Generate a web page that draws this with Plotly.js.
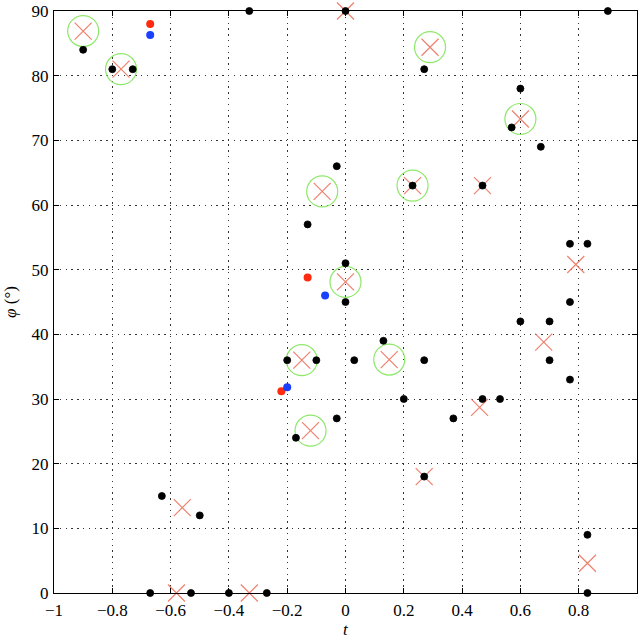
<!DOCTYPE html>
<html>
<head>
<meta charset="utf-8">
<script src="https://cdn.plot.ly/plotly-3.0.1.min.js"></script>
<style>html,body{margin:0;padding:0;background:#fff;}#chart{width:640px;height:640px;}</style>
</head>
<body>
<div id="chart"></div>
<script>
// Black points (t, phi)
const blackT   = [-0.9, -0.8, -0.73, -0.33, 0, 0.27, -0.03, 0.23, 0.9, 0.6, 0.57, 0.67, 0.47, -0.13, 0, 0, 0.13, -0.2, -0.1, 0.03, 0.27, 0.2, 0.77, 0.83, 0.77, 0.6, 0.7, 0.7, 0.77, 0.47, 0.53, 0.37, 0.83, 0.83, -0.17, -0.03, 0.27, -0.27, -0.63, -0.5, -0.67, -0.53, -0.4];
const blackPhi = [84, 81, 81, 90, 90, 81, 66, 63, 90, 78, 72, 69, 63, 57, 51, 45, 39, 36, 36, 36, 36, 30, 54, 54, 45, 42, 42, 36, 33, 30, 30, 27, 9, 0, 24, 27, 18, 0, 15, 12, 0, 0, 0];
// Red crosses
const crossT   = [-0.9, -0.77, 0, 0.29, -0.08, 0.23, 0.6, 0.47, 0, -0.15, 0.15, -0.12, 0.79, 0.68, 0.46, 0.27, -0.56, -0.58, -0.33, 0.83];
const crossPhi = [86.9, 81, 90, 84.4, 62.1, 63, 73.3, 63, 48.1, 36, 36.1, 25.1, 50.8, 38.8, 28.7, 18, 13.2, 0, 0, 4.6];
// Green circles
const circT   = [-0.9, -0.77, 0.29, -0.08, 0.23, 0.6, 0, -0.15, 0.15, -0.12];
const circPhi = [86.9, 81, 84.4, 62.1, 63, 73.3, 48.1, 36, 36.1, 25.1];
// Red dots
const redT   = [-0.67, -0.13, -0.22];
const redPhi = [88, 48.8, 31.2];
// Blue dots
const blueT   = [-0.67, -0.07, -0.2];
const bluePhi = [86.3, 46, 31.8];
// Axis titles
const xTitle = '<i>t</i>';
const yTitle = '<i>φ</i> (°)';

const traces = [
  {x: circT, y: circPhi, type: 'scatter', mode: 'markers', cliponaxis: false,
   marker: {symbol: 'circle-open', size: 31, color: '#8ee86a', line: {width: 1.2, color: '#8ee86a'}}},
  {x: crossT, y: crossPhi, type: 'scatter', mode: 'markers', cliponaxis: false,
   marker: {symbol: 'x-thin-open', size: 17, color: '#f0806e', line: {width: 1.2, color: '#f0806e'}}},
  {x: blackT, y: blackPhi, type: 'scatter', mode: 'markers', cliponaxis: false,
   marker: {symbol: 'circle', size: 7, color: '#000', line: {width: 0.8, color: '#000'}}},
  {x: redT, y: redPhi, type: 'scatter', mode: 'markers', cliponaxis: false,
   marker: {symbol: 'circle', size: 8, color: '#ff2a10', line: {width: 0}}},
  {x: blueT, y: bluePhi, type: 'scatter', mode: 'markers', cliponaxis: false,
   marker: {symbol: 'circle', size: 8, color: '#1a40ff', line: {width: 0}}}
];

const font = {family: 'Liberation Serif, Times New Roman, serif', size: 17, color: '#000'};
const axisCommon = {
  showline: true, linecolor: '#000', linewidth: 1, mirror: 'ticks',
  ticks: 'inside', ticklen: 5, tickwidth: 1, tickcolor: '#000',
  showgrid: true, gridcolor: '#333', gridwidth: 1, griddash: '1.3px,4.5px',
  zeroline: false, tickfont: font
};

const layout = {
  width: 640, height: 640,
  margin: {l: 54, r: 3, t: 11, b: 47},
  paper_bgcolor: '#fff', plot_bgcolor: '#fff',
  showlegend: false, hovermode: false,
  font: font,
  xaxis: Object.assign({}, axisCommon, {range: [-1, 1], dtick: 0.2, tick0: -1,
    ticklabelstandoff: 2}),
  yaxis: Object.assign({}, axisCommon, {range: [0, 90], dtick: 10, tick0: 0,
    ticklabelstandoff: 1,
    title: {text: yTitle, font: font, standoff: 10}}),
  annotations: [
    {text: xTitle, xref: 'paper', yref: 'paper', x: 0.5, y: 0, yshift: -36,
     xanchor: 'center', yanchor: 'middle', showarrow: false, font: font}
  ]
};

Plotly.newPlot('chart', traces, layout, {staticPlot: true, displayModeBar: false});
</script>
</body>
</html>
